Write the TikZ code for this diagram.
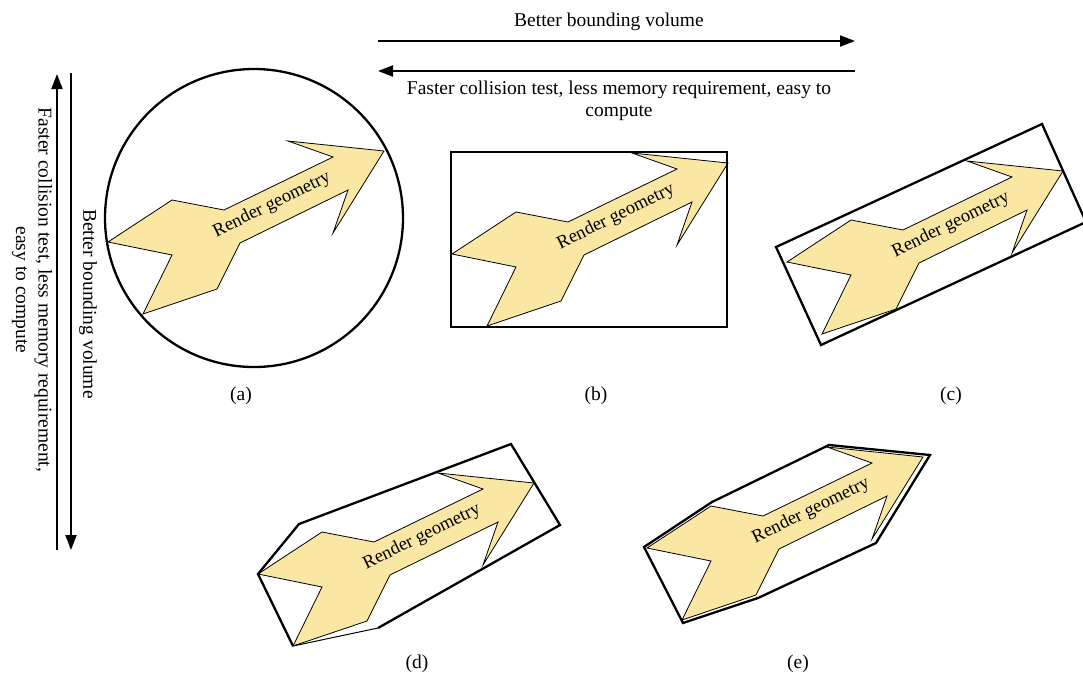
\documentclass[tikz,border=0pt]{standalone}
\usepackage{fontspec}
\setmainfont{Liberation Serif}
\usetikzlibrary{arrows.meta}

\definecolor{geomfill}{RGB}{250,231,163}

\tikzset{
	hull/.style={line width=2.3pt, line join=miter},
	thinhull/.style={line width=1pt},
	bigarrow/.style={line width=2pt, -{Triangle[length=15pt,width=11pt]}},
	lbl/.style={font=\fontsize{19.5}{22.5}\selectfont},
	geomtext/.style={font=\fontsize{18.5}{20}\selectfont, rotate=26},
}

% the arrow shaped render geometry, #1 = name, (#2,#3) = shift
\newcommand{\geomarrow}[3]{%
	\begin{scope}[shift={(#2,#3)}]
		\filldraw[fill=geomfill, draw=black, line width=0.8pt, line join=miter]
			(108,242) -- (172,200) -- (224,210) -- (333,157) -- (288,141) -- (384,151)
			-- (333,233) -- (348,190) -- (240,243) -- (217,289) -- (143,314) -- (172,255) -- cycle;
		\node[geomtext] (#1) at (272,205) {Render geometry};
	\end{scope}}

\begin{document}
\begin{tikzpicture}[x=1pt, y=-1pt, lbl]
	\useasboundingbox (0,0) rectangle (1083,678);

	% 顶部两个箭头
	\coordinate (hl) at (378,41);
	\coordinate (hr) at (855,41);
	\coordinate (hl2) at (378,71);
	\coordinate (hr2) at (855,71);
	\draw[bigarrow] (hl) -- (hr);
	\draw[bigarrow] (hr2) -- (hl2);
	\node (better) at (609,22) {Better bounding volume};
	\node[align=center] (faster) at (619,101) {Faster collision test, less memory requirement, easy to\\compute};

	% 左侧两个箭头
	\coordinate (vt) at (57,74);
	\coordinate (vb) at (57,550);
	\coordinate (vt2) at (71,73);
	\coordinate (vb2) at (71,550);
	\draw[bigarrow] (vb) -- (vt);
	\draw[bigarrow] (vt2) -- (vb2);
	\node[rotate=-90] (vbetter) at (88,304) {Better bounding volume};
	\node[rotate=-90, align=center] (vfaster) at (32,290) {Faster collision test, less memory requirement,\\easy to compute};

	% (a) 包围球
	\geomarrow{ga}{0}{0}
	\draw[hull] (254,218) circle (149);
	\node (la) at (241,396) {(a)};

	% (b) AABB
	\geomarrow{gb}{344}{12}
	\draw[hull] (451,152) rectangle (727,327);
	\node (lb) at (596,396) {(b)};

	% (c) OBB
	\geomarrow{gc}{679}{20}
	\draw[hull] (776,247) -- (1042,124) -- (1086,222) -- (821,345) -- cycle;
	\node (lc) at (951,396) {(c)};

	% (d) k-DOP
	\geomarrow{gd}{150}{332}
	\draw[hull] (378,628) -- (560,525) -- (511,444) -- (299,524) -- (258,574) -- (293,646);
	\draw[thinhull] (293,646) -- (378,628);
	\node (ld) at (417,664) {(d)};

	% (e) 凸包
	\geomarrow{ge}{539}{306}
	\draw[hull] (644,547) -- (712,502) -- (829,445) -- (930,455) -- (876,543) -- (758,598) -- (683,623) -- cycle;
	\node (le) at (798,664) {(e)};
\end{tikzpicture}
\end{document}
